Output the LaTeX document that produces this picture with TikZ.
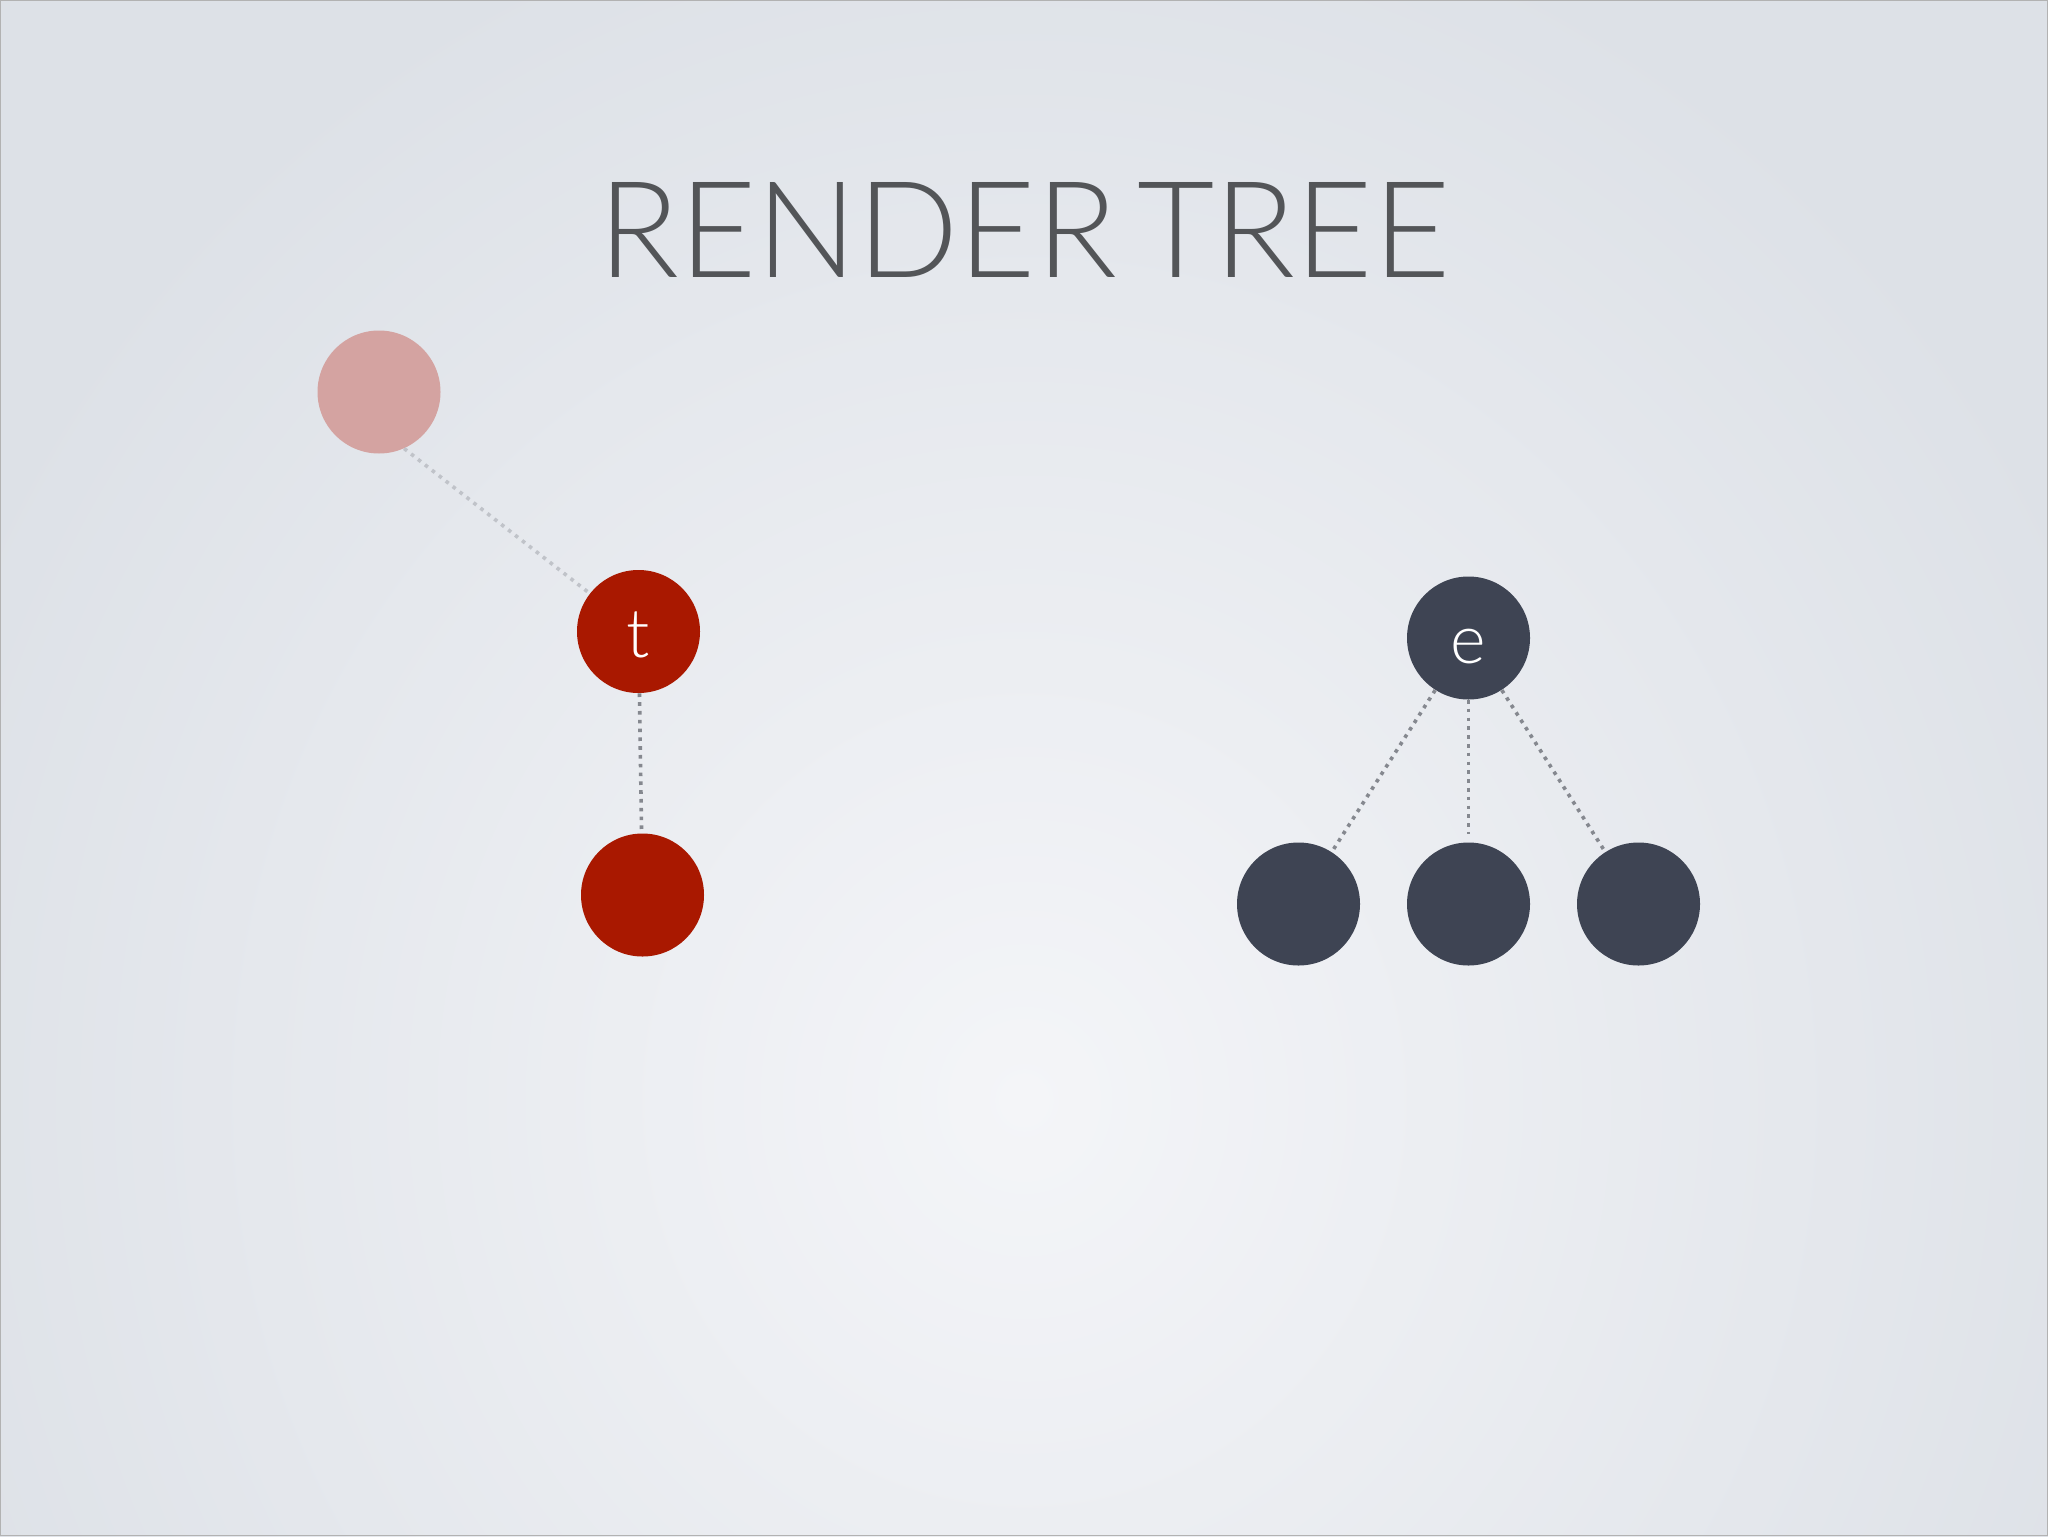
\documentclass[tikz,border=0pt]{standalone}
\usepackage{graphicx}
\usepackage{fontspec}
\newfontfamily\gill{Lato Light}
\definecolor{bgout}{HTML}{DDE1E7}
\definecolor{bgin}{HTML}{F4F5F8}
\definecolor{redc}{HTML}{A91800}
\definecolor{pinkc}{HTML}{D4A3A1}
\definecolor{darkc}{HTML}{3E4453}
\definecolor{titlec}{HTML}{535558}
\definecolor{linkc}{HTML}{85888F}
\definecolor{lightlinkc}{HTML}{C0C3C9}
\tikzset{
  dotcircle/.style={circle, minimum size=61.5pt, inner sep=0pt, text=white,
    font=\gill\fontsize{34}{34}\selectfont, text height=25.5pt, text depth=0pt},
  link/.style={line width=1.8pt, dash pattern=on 1.8pt off 2.6pt, color=linkc}
}
\begin{document}
\begin{tikzpicture}[x=0.5pt,y=-0.5pt]
\useasboundingbox (0,0) rectangle (2048,1536);
\begin{scope}
\clip (0,0) rectangle (2048,1536);
\shade[inner color=bgin, outer color=bgout] (-150,-150) rectangle (2198,2350);
\end{scope}
\draw[color=black!30, line width=0.8pt] (0.5,0.5) rectangle (2047.5,1535.5);

\node[anchor=south west, inner sep=0pt, text=titlec] (title) at (598,278)
  {\resizebox{426pt}{47.5pt}{\gill RENDER\hspace{0.15em}TREE}};

\node[dotcircle, fill=pinkc] (pink) at (379,392) {};
\node[dotcircle, fill=redc] (t) at (638.5,631.5) {t};
\node[dotcircle, fill=redc] (tc) at (642.5,895) {};
\node[dotcircle, fill=darkc] (e) at (1468.5,638) {e};
\node[dotcircle, fill=darkc] (c1) at (1298.5,904) {};
\node[dotcircle, fill=darkc] (c2) at (1468.5,904) {};
\node[dotcircle, fill=darkc] (c3) at (1638.5,904) {};

\draw[link, color=lightlinkc] (pink.-66) -- (t);
\draw[link] (t) -- (tc);
\draw[link] (e) -- (c1);
\draw[link, shorten >=4pt] (e) -- (c2);
\draw[link] (e) -- (c3);
\end{tikzpicture}
\end{document}
